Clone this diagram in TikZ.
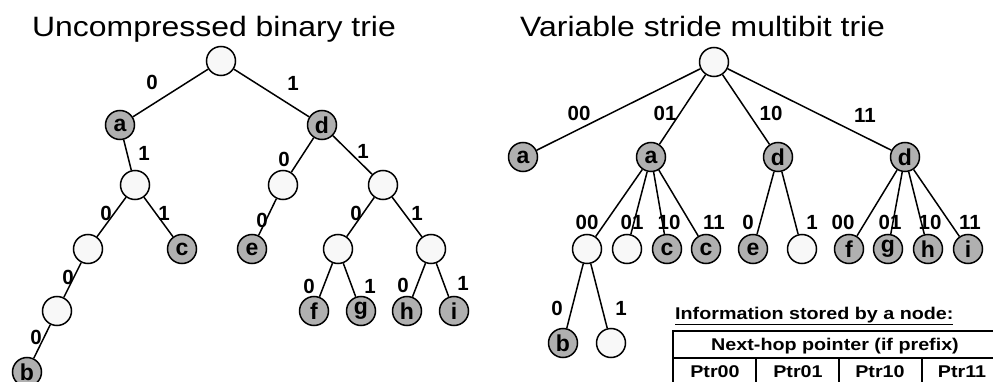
\documentclass[tikz,border=0pt]{standalone}
\usepackage{fontspec}
\setmainfont{Liberation Sans}
\usepackage{graphicx}
\newcommand{\sx}[1]{\scalebox{1.14}[1]{#1}}
\newcommand{\sxt}[1]{\scalebox{1.16}[1]{#1}}
\definecolor{nodegray}{HTML}{B0B0B0}
\definecolor{nodewhite}{HTML}{F8F8F8}
\begin{document}
\begin{tikzpicture}[x=1pt,y=-1pt,
  tn/.style={circle, draw=black, line width=1.5pt, minimum size=29pt, inner sep=0pt, font=\bfseries\fontsize{23}{23}\selectfont},
  wn/.style={tn, fill=nodewhite},
  gn/.style={tn, fill=nodegray},
  lbl/.style={inner sep=0pt, font=\bfseries\fontsize{20.5}{20.5}\selectfont},
  edge/.style={line width=1.5pt},
  ttl/.style={inner sep=0pt, anchor=base west, font=\fontsize{28}{28}\selectfont},
  tbl/.style={inner sep=0pt, font=\bfseries\fontsize{17}{17}\selectfont},
  tline/.style={line width=1.5pt}
]
\useasboundingbox (0,0) rectangle (993,382);
\clip (0,0) rectangle (993,382);

% titles
\node[ttl] (t1) at (32,37) {\sx{Uncompressed binary trie}};
\node[ttl] (t2) at (520,37) {\sx{Variable stride multibit trie}};

% left tree
\node[wn] (L0) at (221,61) {};
\node[gn] (La) at (120,125) {a};
\node[gn] (Ld) at (322,125) {d};
\node[wn] (L1) at (135,185) {};
\node[wn] (L2) at (283,185) {};
\node[wn] (L3) at (383,185) {};
\node[wn] (L4) at (88,249) {};
\node[gn] (Lc) at (182,249) {c};
\node[gn] (Le) at (252,249) {e};
\node[wn] (L5) at (338,249) {};
\node[wn] (L6) at (431,249) {};
\node[wn] (L7) at (57,311) {};
\node[gn] (Lf) at (314,311) {f};
\node[gn] (Lg) at (361,311) {g};
\node[gn] (Lh) at (407,311) {h};
\node[gn] (Li) at (454,311) {i};
\node[gn] (Lb) at (27,372) {b};

\draw[edge] (L0) -- (La);
\draw[edge] (L0) -- (Ld);
\draw[edge] (La) -- (L1);
\draw[edge] (Ld) -- (L2);
\draw[edge] (Ld) -- (L3);
\draw[edge] (L1) -- (L4);
\draw[edge] (L1) -- (Lc);
\draw[edge] (L2) -- (Le);
\draw[edge] (L3) -- (L5);
\draw[edge] (L3) -- (L6);
\draw[edge] (L4) -- (L7);
\draw[edge] (L5) -- (Lf);
\draw[edge] (L5) -- (Lg);
\draw[edge] (L6) -- (Lh);
\draw[edge] (L6) -- (Li);
\draw[edge] (L7) -- (Lb);

\node[lbl] (l01) at (152,82) {0};
\node[lbl] (l02) at (293,83) {1};
\node[lbl] (l03) at (144,153) {1};
\node[lbl] (l04) at (284,159) {0};
\node[lbl] (l05) at (363,151) {1};
\node[lbl] (l06) at (106,213) {0};
\node[lbl] (l07) at (164,213) {1};
\node[lbl] (l08) at (262,220) {0};
\node[lbl] (l09) at (356,213) {0};
\node[lbl] (l10) at (417,213) {1};
\node[lbl] (l11) at (68,277) {0};
\node[lbl] (l12) at (309,286) {0};
\node[lbl] (l13) at (370,286) {1};
\node[lbl] (l14) at (403,285) {0};
\node[lbl] (l15) at (463,283) {1};
\node[lbl] (l16) at (36,337) {0};

% right tree
\node[wn] (R0) at (714,62) {};
\node[gn] (Ra1) at (523,157) {a};
\node[gn] (Ra2) at (651,157) {a};
\node[gn] (Rd1) at (778,157) {d};
\node[gn] (Rd2) at (905,157) {d};
\node[wn] (Rm1) at (587,249) {};
\node[wn] (Rm2) at (627,249) {};
\node[gn] (Rc1) at (667,249) {c};
\node[gn] (Rc2) at (706,249) {c};
\node[gn] (Re) at (753,249) {e};
\node[wn] (Rm3) at (802,249) {};
\node[gn] (Rf) at (849,249) {f};
\node[gn] (Rg) at (888,249) {g};
\node[gn] (Rh) at (928,249) {h};
\node[gn] (Ri) at (968,249) {i};
\node[gn] (Rb) at (563,343) {b};
\node[wn] (Rm4) at (611,343) {};

\draw[edge] (R0) -- (Ra1);
\draw[edge] (R0) -- (Ra2);
\draw[edge] (R0) -- (Rd1);
\draw[edge] (R0) -- (Rd2);
\draw[edge] (Ra2) -- (Rm1);
\draw[edge] (Ra2) -- (Rm2);
\draw[edge] (Ra2) -- (Rc1);
\draw[edge] (Ra2) -- (Rc2);
\draw[edge] (Rd1) -- (Re);
\draw[edge] (Rd1) -- (Rm3);
\draw[edge] (Rd2) -- (Rf);
\draw[edge] (Rd2) -- (Rg);
\draw[edge] (Rd2) -- (Rh);
\draw[edge] (Rd2) -- (Ri);
\draw[edge] (Rm1) -- (Rb);
\draw[edge] (Rm1) -- (Rm4);

\node[lbl] (r01) at (579,113) {00};
\node[lbl] (r02) at (665,113) {01};
\node[lbl] (r03) at (771,113) {10};
\node[lbl] (r04) at (865,115) {11};
\node[lbl] (r05) at (587,222) {00};
\node[lbl] (r06) at (632,222) {01};
\node[lbl] (r07) at (669,222) {10};
\node[lbl] (r08) at (714,222) {11};
\node[lbl] (r09) at (748,222) {0};
\node[lbl] (r10) at (812,222) {1};
\node[lbl] (r11) at (843,222) {00};
\node[lbl] (r12) at (890,222) {01};
\node[lbl] (r13) at (930,222) {10};
\node[lbl] (r14) at (970,222) {11};
\node[lbl] (r15) at (557,308) {0};
\node[lbl] (r16) at (621,308) {1};

% information table
\node[tbl, anchor=base west] (info) at (675,319) {\sxt{\underline{Information stored by a node:}}};
\draw[tline] (673,331) rectangle (1005,420);
\draw[tline] (673,358) -- (1005,358);
\draw[tline] (756,358) -- (756,420);
\draw[tline] (839,358) -- (839,420);
\draw[tline] (922,358) -- (922,420);
\node[tbl] (th) at (835,346) {\sxt{Next-hop pointer (if prefix)}};
\node[tbl] (p0) at (715,372) {\sxt{Ptr00}};
\node[tbl] (p1) at (798,372) {\sxt{Ptr01}};
\node[tbl] (p2) at (880,372) {\sxt{Ptr10}};
\node[tbl] (p3) at (962,372) {\sxt{Ptr11}};
\end{tikzpicture}
\end{document}
